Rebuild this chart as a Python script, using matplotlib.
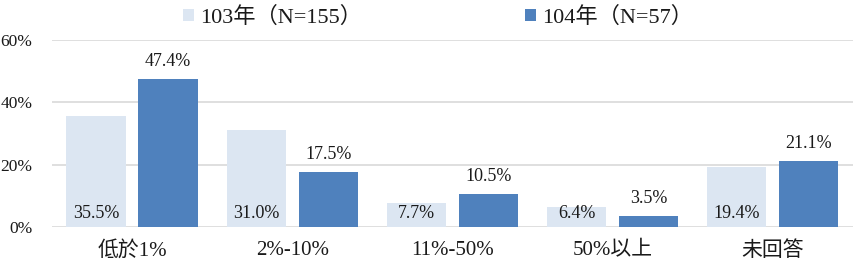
import numpy as np
import matplotlib.pyplot as plt

plt.rcParams['font.family'] = ['Liberation Serif', 'Noto Sans CJK TC', 'DejaVu Sans']

categories = ['低於1%', '2%-10%', '11%-50%', '50%以上', '未回答']
series_names = ['103年（N=155）', '104年（N=57）']
vals_103 = [35.5, 31.0, 7.7, 6.4, 19.4]
vals_104 = [47.4, 17.5, 10.5, 3.5, 21.1]

c103 = '#DCE6F2'
c104 = '#4F81BD'
txt = '#1a1a1a'

fig = plt.figure(figsize=(8.57, 2.66), dpi=100)
ax = fig.add_axes([0.0607, 0.1466, 0.9343, 0.703])

x = np.arange(len(categories))
width = 0.37
r1 = ax.bar(x - 0.225, vals_103, width, color=c103, zorder=2, label=series_names[0])
r2 = ax.bar(x + 0.225, vals_104, width, color=c104, zorder=2, label=series_names[1])

for rect, v in zip(r1, vals_103):
    ax.text(rect.get_x() + rect.get_width() / 2, 1.6, '%.1f%%' % v,
            ha='center', va='bottom', fontsize=13, color=txt, zorder=3)
for rect, v in zip(r2, vals_104):
    ax.text(rect.get_x() + rect.get_width() / 2, v + 3.0, '%.1f%%' % v,
            ha='center', va='bottom', fontsize=13, color=txt, zorder=3)

ax.set_xlim(-0.5, len(categories) - 0.5)
ax.set_ylim(0, 60)
ax.set_yticks([0, 20, 40, 60])
ax.set_yticklabels(['0%', '20%', '40%', '60%'], fontsize=12.5, color=txt)
ax.set_xticks(x)
ax.set_xticklabels(categories, fontsize=15, color=txt)
ax.tick_params(axis='both', length=0)
ax.tick_params(axis='x', pad=10)
ax.tick_params(axis='y', pad=14)
ax.yaxis.grid(True, color='#D9D9D9', linewidth=1.2, zorder=0)
for s in ax.spines.values():
    s.set_visible(False)

leg = fig.legend(handles=[r1, r2], labels=series_names, loc='center',
                 bbox_to_anchor=(0.511, 0.935), ncol=2, frameon=False,
                 fontsize=16, handlelength=0.5, handleheight=0.5,
                 handletextpad=0.3, columnspacing=7.3)
for t in leg.get_texts():
    t.set_color(txt)

fig.savefig('out.png', dpi=100)
